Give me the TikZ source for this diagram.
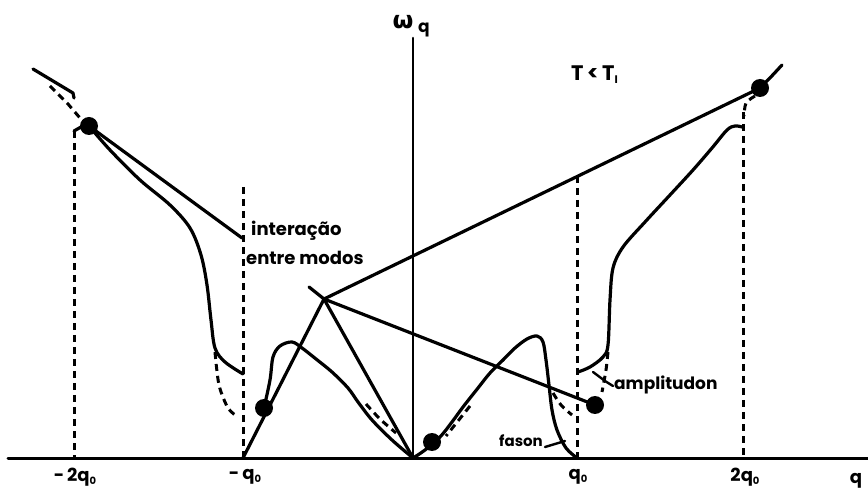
\documentclass[tikz,border=0pt]{standalone}
\usepackage{fontspec}
\setmainfont{Poppins}
\newfontfamily\dvfont{DejaVu Sans}
\begin{document}
\begin{tikzpicture}[x=1pt,y=-1pt, line cap=round, line join=round,
  curve/.style={line width=3.2pt},
  dsh/.style={line width=3pt, dash pattern=on 7pt off 5pt, line cap=butt},
  dotn/.style={circle, fill, inner sep=0pt, minimum size=18pt},
  lbl/.style={font=\bfseries\fontsize{18}{20}\selectfont, inner sep=0pt}]
\useasboundingbox (0,0) rectangle (868,494);
% key points
\coordinate (V) at (324,299);
\coordinate (O) at (413,458);
\coordinate (mq) at (243,458);
\coordinate (pq) at (577,458);
\coordinate (mqq) at (74,458);
\coordinate (pqq) at (743,458);
\coordinate (iE) at (242,238);
\coordinate (stub) at (309,287);
% axes
\draw[line width=3pt] (8,458) coordinate (axL) -- (868,458) coordinate (axR);
\draw[line width=2.6pt] (413,38) coordinate (wtop) -- (O);
% dashed verticals
\draw[dsh] (74,131) -- (mqq);
\draw[curve] (74,131) -- (81,127);
\draw[dsh] (243,187) -- (mq);
\draw[dsh] (577,176) -- (pq);
\draw[dsh] (743,112) -- (pqq);
% dots
\node[dotn] (dL) at (89,126) {};
\node[dotn] (dR) at (760,88) {};
\node[dotn] (dS) at (264,408) {};
\node[dotn] (dA) at (595,405) {};
\node[dotn] (dC) at (432,442) {};
% straight lines
\draw[curve] (dL.center) -- (iE);
\draw[curve] (mq) -- (V);
\draw[curve] (V) -- (dR.center);
\draw[curve] (V) -- (dA.center);
\draw[curve] (V) -- (O);
\draw[curve] (stub) -- (V);
% top-left
\draw[curve] (33,69) -- (73,93) -- (74,98);
\draw[dsh] (50,86) -- (68,104) -- (80,118);
% left lower branch
\draw[curve] plot[smooth, tension=0.55] coordinates {(89,126) (110,150) (140,180) (170,205) (190,228) (201,255) (207,285) (211,320) (215,348) (225,362) (243,374)};
\draw[dsh] plot[smooth] coordinates {(215,352) (219,385) (228,408) (238,417)};
% loop near -q0 and descent to origin
\draw[curve] plot[smooth, tension=0.55] coordinates {(264,408) (270,380) (273,357) (280,346) (292,342) (302,348) (316,359) (332,372) (348,388) (358,402) (372,420) (392,440) (413,458)};
\draw[dsh] plot[smooth] coordinates {(366,404) (380,419) (396,433)};
% right hump from origin to q0
\draw[curve] plot[smooth, tension=0.55] coordinates {(413,458) (425,450) (440,437) (452,422) (463,407) (478,388) (490,373) (503,360) (515,348) (527,339) (537,336) (543,342) (546,360) (549,385) (552,410) (557,430) (566,448) (577,458)};
\draw[dsh] plot[smooth] coordinates {(470,406) (458,421) (446,436)};
\draw[dsh] plot[smooth] coordinates {(553,393) (561,405) (572,415)};
% right upper branch
\draw[curve] plot[smooth, tension=0.55] coordinates {(578,372) (590,367) (603,357) (608,345) (610,300) (613,268) (623,247) (645,222) (670,195) (693,170) (712,148) (727,130) (735,126) (742,127)};
\draw[dsh] plot[smooth] coordinates {(608,352) (606,370) (602,392)};
\draw[dsh] plot[smooth] coordinates {(755,96) (746,103) (744,116)};
\draw[curve] (dR.center) .. controls (770,78) .. (782,65);
% leaders
\draw[curve, line width=2.4pt] (593,372) -- (605,381) -- (613,386);
\draw[curve, line width=2.4pt] (545,447) -- (565,441);
% labels
\node[inner sep=0pt] (wl) at (403,22) {\dvfont\bfseries\fontsize{24}{26}\selectfont ω};
\node[lbl, font=\bfseries\fontsize{17}{19}\selectfont] (wq) at (424,30) {q};
\node[lbl, anchor=west, font=\bfseries\fontsize{21}{23}\selectfont] (temp) at (571,75) {T\,<\,T\raisebox{-3pt}{\fontsize{11}{12}\selectfont I}};
\node[lbl, anchor=west] (int1) at (251,231) {interação};
\node[lbl, anchor=west] (int2) at (246,258) {entre modos};
\node[lbl, anchor=west, font=\bfseries\fontsize{17}{19}\selectfont] (amp) at (614,385) {amplitudon};
\node[lbl, anchor=west, font=\bfseries\fontsize{15}{17}\selectfont] (fas) at (499,441) {fason};
\node[lbl] (l1) at (75,477) {-\,2q\raisebox{-3pt}{\fontsize{10}{10}\selectfont 0}};
\node[lbl] (l2) at (245,477) {-\,q\raisebox{-3pt}{\fontsize{10}{10}\selectfont 0}};
\node[lbl] (l3) at (578,477) {q\raisebox{-3pt}{\fontsize{10}{10}\selectfont 0}};
\node[lbl] (l4) at (745,477) {2q\raisebox{-3pt}{\fontsize{10}{10}\selectfont 0}};
\node[lbl] (l5) at (856,481) {q};
\end{tikzpicture}
\end{document}
